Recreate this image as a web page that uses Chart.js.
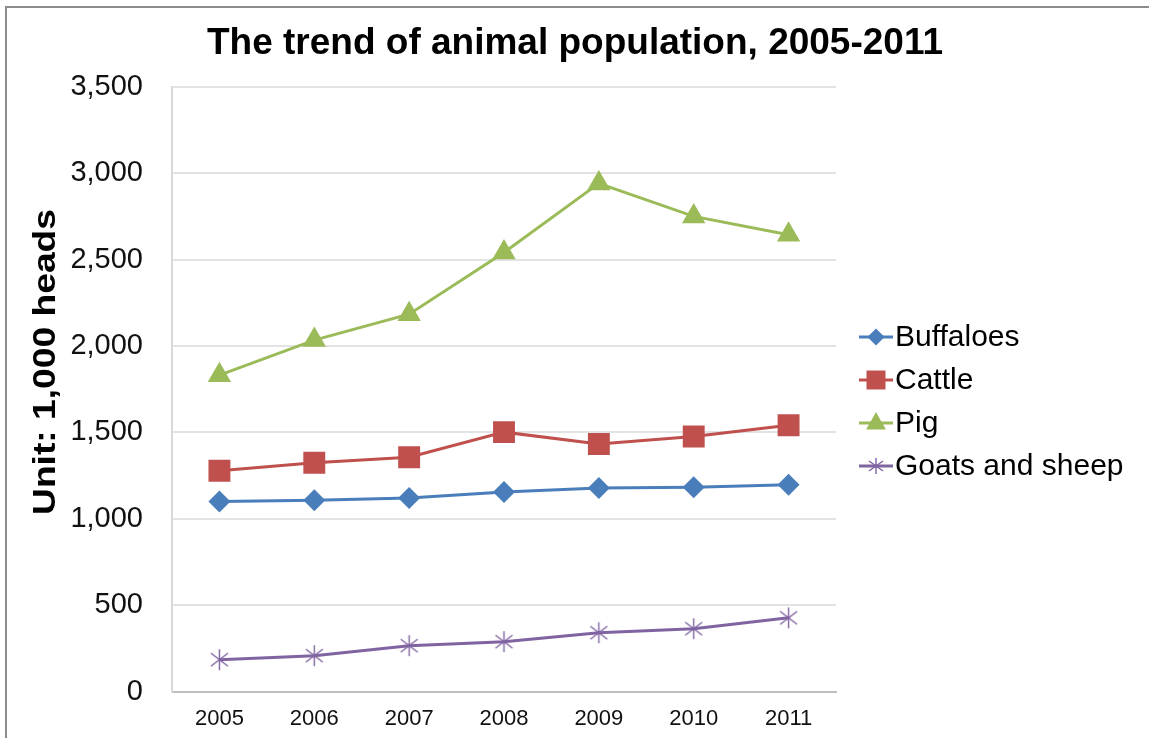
<!DOCTYPE html>
<html>
<head>
<meta charset="utf-8">
<script src="https://cdn.jsdelivr.net/npm/chart.js@4/dist/chart.umd.min.js"></script>
<style>
  html, body { margin: 0; padding: 0; background: #fff; }
  #wrap { position: relative; width: 1149px; height: 738px; overflow: hidden; }
  #frame { position: absolute; left: 5px; top: 6px; width: 1200px; height: 800px; border-left: 2px solid #8c8c8c; border-top: 2px solid #8c8c8c; }
  #chart { position: absolute; left: 0; top: 0; }
</style>
</head>
<body>
<div id="wrap">
  <div id="frame"></div>
  <canvas id="chart" width="1149" height="738"></canvas>
</div>
<script>
const years = ['2005', '2006', '2007', '2008', '2009', '2010', '2011'];
const buffaloes = [1100, 1108, 1121, 1156, 1179, 1183, 1198];
const cattle = [1278, 1325, 1357, 1502, 1433, 1477, 1542];
const pig = [1832, 2035, 2185, 2542, 2942, 2751, 2645];
const goatsSheep = [185, 208, 266, 289, 341, 364, 427];
const yTicks = [0, 500, 1000, 1500, 2000, 2500, 3000, 3500];

const FONT = '"Liberation Sans", Arial, sans-serif';
const colors = { buffaloes: '#4a7ebb', cattle: '#c0504d', pig: '#9bbb59', goats: '#8064a2' };

// six-armed asterisk used by Excel for the goats/sheep series
function starIcon(color, w, h) {
    const c = document.createElement('canvas');
    c.width = w; c.height = h;
    const g = c.getContext('2d');
    g.strokeStyle = color;
    g.lineWidth = 1.4;
    g.beginPath();
    g.moveTo(w / 2, 1); g.lineTo(w / 2, h - 1);
    g.moveTo(1, h * 0.22); g.lineTo(w - 1, h * 0.78);
    g.moveTo(1, h * 0.78); g.lineTo(w - 1, h * 0.22);
    g.stroke();
    return c;
}
const goatStar = starIcon(colors.goats, 19, 23);
const goatStarSmall = starIcon(colors.goats, 16, 18);

const series = [
    { label: 'Buffaloes', data: buffaloes, color: colors.buffaloes, point: 'rectRot', radius: 11 },
    { label: 'Cattle', data: cattle, color: colors.cattle, point: 'rect', radius: 15.5 },
    { label: 'Pig', data: pig, color: colors.pig, point: 'triangle', radius: 13.5 },
    { label: 'Goats and sheep', data: goatsSheep, color: colors.goats, point: goatStar, radius: 10 },
];

function drawMarker(ctx, style, x, y, r, color) {
    ctx.save();
    ctx.fillStyle = color;
    ctx.beginPath();
    if (style === 'rectRot') {
        ctx.moveTo(x, y - r); ctx.lineTo(x + r, y); ctx.lineTo(x, y + r); ctx.lineTo(x - r, y);
        ctx.closePath(); ctx.fill();
    } else if (style === 'rect') {
        ctx.rect(x - r, y - r, 2 * r, 2 * r); ctx.fill();
    } else if (style === 'triangle') {
        ctx.moveTo(x, y - r); ctx.lineTo(x + r * 0.9, y + r * 0.6); ctx.lineTo(x - r * 0.9, y + r * 0.6);
        ctx.closePath(); ctx.fill();
    } else {
        ctx.drawImage(goatStarSmall, x - goatStarSmall.width / 2, y - goatStarSmall.height / 2);
    }
    ctx.restore();
}

const sidePlugin = {
    id: 'sideText',
    afterDraw(chart) {
        const ctx = chart.ctx;

        // title, centred on the whole picture
        ctx.save();
        ctx.font = 'bold 37px ' + FONT;
        ctx.fillStyle = '#000';
        ctx.textAlign = 'center';
        ctx.textBaseline = 'middle';
        ctx.fillText('The trend of animal population, 2005-2011', 575, 44);
        ctx.restore();

        // y axis title
        ctx.save();
        ctx.translate(46, 362);
        ctx.rotate(-Math.PI / 2);
        ctx.scale(1.2, 1);
        ctx.font = 'bold 31px ' + FONT;
        ctx.fillStyle = '#000';
        ctx.textAlign = 'center';
        ctx.textBaseline = 'middle';
        ctx.fillText('Unit: 1,000 heads', 0, 0);
        ctx.restore();

        // legend: line + marker + label
        const legendSizes = [8.5, 9.5, 11, 0];
        chart.data.datasets.forEach((ds, i) => {
            const y = 337 + i * 43;
            ctx.save();
            ctx.strokeStyle = ds.borderColor;
            ctx.lineWidth = 3;
            ctx.beginPath();
            ctx.moveTo(859, y);
            ctx.lineTo(893, y);
            ctx.stroke();
            ctx.restore();
            drawMarker(ctx, series[i].point, 876, y, legendSizes[i], ds.borderColor);
            ctx.save();
            ctx.font = '30px ' + FONT;
            ctx.fillStyle = '#000';
            ctx.textAlign = 'left';
            ctx.textBaseline = 'middle';
            ctx.fillText(ds.label, 895, y + 1);
            ctx.restore();
        });
    },
};

new Chart(document.getElementById('chart'), {
    type: 'line',
    data: {
        labels: years,
        datasets: series.map(s => ({
            label: s.label,
            data: s.data,
            borderColor: s.color,
            backgroundColor: s.color,
            borderWidth: 3,
            tension: 0,
            pointStyle: s.point,
            pointRadius: s.radius,
            pointHoverRadius: s.radius,
            pointBorderWidth: 0,
            pointBackgroundColor: s.color,
            pointBorderColor: s.color,
        })),
    },
    options: {
        responsive: false,
        animation: false,
        layout: { padding: { top: 87, right: 313, bottom: 0, left: 0 } },
        plugins: {
            legend: { display: false },
            tooltip: { enabled: false },
            title: { display: false },
        },
        scales: {
            x: {
                offset: true,
                grid: { display: false, drawTicks: false },
                border: { display: true, color: '#bfbfbf', width: 2 },
                ticks: { color: '#111', font: { family: FONT, size: 22 }, padding: 14, maxRotation: 0 },
                afterFit: scale => { scale.height = 45; },
            },
            y: {
                min: 0,
                max: 3500,
                afterBuildTicks: scale => { scale.ticks = yTicks.map(v => ({ value: v })); },
                grid: { color: '#e3e3e3', lineWidth: 2, drawTicks: false },
                border: { display: true, color: '#d9d9d9', width: 2 },
                ticks: {
                    color: '#111',
                    font: { family: FONT, size: 29 },
                    padding: 29,
                    callback: v => v.toLocaleString('en-US'),
                },
                afterFit: scale => { scale.width = 172; },
            },
        },
    },
    plugins: [sidePlugin],
});
</script>
</body>
</html>
